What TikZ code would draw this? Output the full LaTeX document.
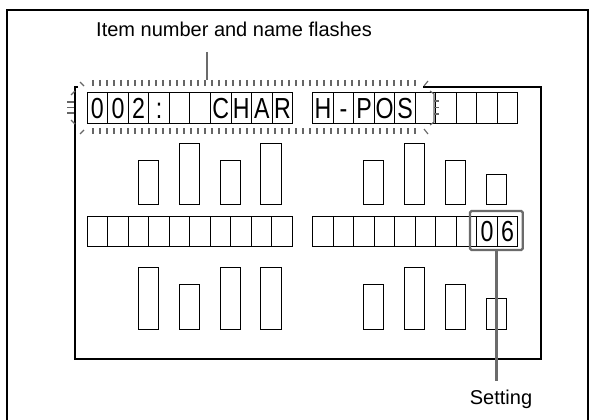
\documentclass[tikz,border=0pt]{standalone}
\usepackage{fontspec}
\usepackage{graphicx}
\setmainfont{Liberation Sans}
\newcommand{\cellglyph}[1]{\scalebox{0.8}[1]{#1}}
\begin{document}
\begin{tikzpicture}[x=1pt,y=-1pt,
  cellbox/.style={draw=black, line width=0.9pt, minimum width=20.55pt, minimum height=31pt,
    inner sep=0pt, anchor=north west, text height=21pt, text depth=0pt,
    font=\fontsize{29}{29}\selectfont},
  barbox/.style={draw=black, line width=0.9pt},
  flash/.style={draw=black!60, line width=1.1pt},
  pointer/.style={draw=black!58, line width=2.6pt},
  labeltext/.style={font=\fontsize{20}{20}\selectfont, inner sep=0pt},
  hlbox/.style={draw=black!58, line width=2.4pt, rounded corners=1.5pt, minimum width=52.7pt, minimum height=39pt, inner sep=0pt}]
\useasboundingbox (0,0) rectangle (595,420);
% outer frame
\draw[line width=2pt] (7,421) -- (7,10) -- (588,10) -- (588,421);
% inner frame (top line hidden under the flash marks)
\draw[line width=1.2pt] (78,87) -- (75,87) -- (75,359) -- (541,359) -- (541,87) -- (423,87);
% top row
\foreach \t [count=\i from 0] in {0,0,2,:,{},{},C,H,A,R}
  \node[cellbox] (ta\i) at (86.7+20.55*\i,92) {\cellglyph{\t}};
\foreach \t [count=\i from 0] in {H,-,P,O,S,{},{},{},{},{}}
  \node[cellbox] (tb\i) at (312.3+20.5*\i,92) {\cellglyph{\t}};
% middle row
\foreach \i in {0,...,9}
  \node[cellbox, minimum height=30pt] (ma\i) at (86.7+20.5*\i,215.7) {};
\foreach \t [count=\i from 0] in {{},{},{},{},{},{},{},{},0,6}
  \node[cellbox, minimum height=30pt] (mb\i) at (312.3+20.5*\i,215.7) {\cellglyph{\t}};
% upper bars
\foreach \x/\t in {138.3/160.7,179/143.3,220/160.7,260.7/143.3,363.3/160.7,404.3/143.3,445/160.7,486/174}
  \draw[barbox] (\x,\t) rectangle (\x+20.5,204);
% lower bars
\foreach \x/\t in {138.3/267.3,179/284.7,220/267.3,260.7/267.3,363.3/284.7,404.3/267.3,445/284.7,486/298.7}
  \draw[barbox] (\x,\t) rectangle (\x+20.5,329);
% flash marks
\foreach \k in {0,...,46} {
  \draw[flash] (93+7*\k,80) -- (93+7*\k,86);
  \draw[flash] (93+7*\k,128) -- (93+7*\k,134);
}
\draw[flash] (80,82) -- (84,86);
\draw[flash] (80,134) -- (84,130);
\draw[flash] (424,86) -- (428,81);
\draw[flash] (424,129) -- (428,134);
% left bracket
\draw[flash] (71,95) -- (75,91);
\draw[flash] (67,102) -- (74,102);
\draw[flash] (67,107.5) -- (74,107.5);
\draw[flash] (67,113) -- (74,113);
\draw[flash] (71,120) -- (75,124);
% right bracket
\draw[flash] (430,91) -- (434,94) -- (434,122) -- (430,125);
\draw[flash] (434,101) -- (439,101);
\draw[flash] (434,107.5) -- (439,107.5);
\draw[flash] (434,114) -- (439,114);
% highlight
\node[hlbox] (hl) at (496.35,230.5) {};
% labels and pointers
\node[labeltext, anchor=base west] (lbltop) at (96,37) {Item number and name flashes};
\coordinate (ptrtopA) at (207,52);
\coordinate (ptrtopB) at (207,80);
\draw[pointer] (ptrtopA) -- (ptrtopB);
\node[labeltext, anchor=base] (lblset) at (501,404) {Setting};
\coordinate (ptrset) at (496.35,381);
\draw[pointer] (hl.south) -- (ptrset);
\end{tikzpicture}
\end{document}
